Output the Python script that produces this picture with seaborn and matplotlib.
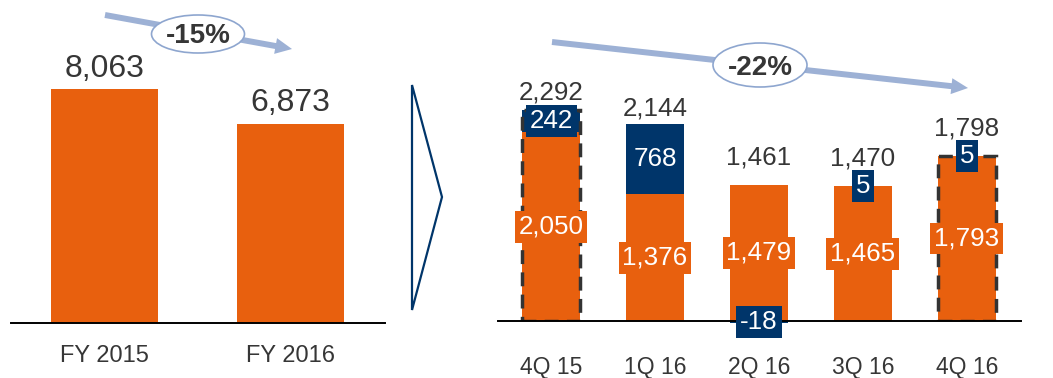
import matplotlib
matplotlib.use("Agg")
import matplotlib.pyplot as plt
import seaborn as sns
import pandas as pd
from matplotlib.patches import Ellipse, FancyArrowPatch, Polygon, ArrowStyle

# ---- data ----
fy_labels = ["FY 2015", "FY 2016"]
fy_values = [8063, 6873]
fy_change = "-15%"

q_labels = ["4Q 15", "1Q 16", "2Q 16", "3Q 16", "4Q 16"]
q_base = [2050, 1376, 1479, 1465, 1793]
q_delta = [242, 768, -18, 5, 5]
q_total = [2292, 2144, 1461, 1470, 1798]
q_dashed = [True, False, False, False, True]
q_change = "-22%"

# ---- style ----
ORANGE = "#E8600E"
NAVY = "#00356A"
GRAY = "#363636"
ARROW = "#9DB1D5"
ELLIPSE_EDGE = "#8EA6CF"
DASH = "#333333"

sns.set_theme(style="white")
plt.rcParams["font.family"] = ["Liberation Sans", "DejaVu Sans"]

W, H = 1053, 378
fig = plt.figure(figsize=(W / 100, H / 100), dpi=100)


def fx(x):
    return x / W


def fy(y):
    return 1 - y / H


axL = fig.add_axes([fx(11), fy(323), 374 / W, 318 / H])
axR = fig.add_axes([fx(498), fy(321), 523 / W, 316 / H])

# ---- left chart ----
dfL = pd.DataFrame({"period": fy_labels, "value": fy_values})
sns.barplot(data=dfL, x="period", y="value", color=ORANGE, saturation=1,
            width=0.575, errorbar=None, linewidth=0, ax=axL, zorder=2)
axL.set_xlim(-0.503, 1.508)
axL.set_ylim(0, 10958)
for i, v in enumerate(fy_values):
    axL.annotate(f"{v:,}", (i, v), xytext=(0, 3.7), textcoords="offset points",
                 ha="center", va="bottom", fontsize=23, color=GRAY)

# ---- right chart ----
dfR = pd.DataFrame({"quarter": q_labels, "value": q_base})
sns.barplot(data=dfR, x="quarter", y="value", color=ORANGE, saturation=1,
            width=0.56, errorbar=None, linewidth=0, ax=axR, zorder=2)
idx = list(range(len(q_labels)))
seg_bottom = [b if d >= 0 else 0 for b, d in zip(q_base, q_delta)]
axR.bar(idx, q_delta, bottom=seg_bottom, width=0.56, color=NAVY,
        linewidth=0, zorder=2, clip_on=False)
d_idx = [i for i in idx if q_dashed[i]]
axR.bar(d_idx, [q_total[i] for i in d_idx], width=0.56, fill=False,
        edgecolor=DASH, linewidth=2.5, linestyle=(0, (4, 2.4)), zorder=3)
axR.set_xlim(-0.51, 4.52)
axR.set_ylim(0, 3435)

top_gap = [4, 2.5, 11, 11, 11]
box = dict(boxstyle="square,pad=0.15", linewidth=0)
for i in idx:
    b, d, t = q_base[i], q_delta[i], q_total[i]
    top = max(b, b + d)
    axR.annotate(f"{t:,}", (i, top), xytext=(0, top_gap[i]),
                 textcoords="offset points", ha="center", va="bottom",
                 fontsize=18.7, color=GRAY)
    axR.text(i, b / 2, f"{b:,}", ha="center", va="center", fontsize=18.7,
             color="white", bbox=dict(box, facecolor=ORANGE), zorder=4)
    axR.text(i, seg_bottom[i] + d / 2, f"{d:,}", ha="center", va="center",
             fontsize=18.7, color="white", bbox=dict(box, facecolor=NAVY),
             zorder=5)

# ---- axes cosmetics ----
for ax, pad, size in ((axL, 15.8, 17), (axR, 25, 16.5)):
    ax.set_xlabel("")
    ax.set_ylabel("")
    ax.set_yticks([])
    for s in ("top", "left", "right"):
        ax.spines[s].set_visible(False)
    ax.spines["bottom"].set_color("black")
    ax.spines["bottom"].set_linewidth(1.4)
    ax.spines["bottom"].set_zorder(3)
    ax.tick_params(axis="x", length=0, pad=pad, labelsize=size, labelcolor=GRAY)
    ax.patch.set_alpha(0)

# ---- decorations: trend arrows, ellipses, chevron ----
style = ArrowStyle.Simple(head_length=12, head_width=11.5, tail_width=4.3)


def trend(p0, p1, center, size, label, baseline):
    arr = FancyArrowPatch((fx(p0[0]), fy(p0[1])), (fx(p1[0]), fy(p1[1])),
                          transform=fig.transFigure, arrowstyle=style,
                          mutation_scale=1, color=ARROW, linewidth=0,
                          shrinkA=0, shrinkB=0, zorder=5)
    fig.add_artist(arr)
    ell = Ellipse((fx(center[0]), fy(center[1])), size[0] / W, size[1] / H,
                  transform=fig.transFigure, facecolor="white",
                  edgecolor=ELLIPSE_EDGE, linewidth=1.2, zorder=6)
    fig.add_artist(ell)
    fig.text(fx(center[0]), fy(baseline), label, ha="center", va="baseline",
             fontsize=20, fontweight="bold", color=GRAY, zorder=7)


trend((105, 15), (292, 49), (198, 34), (93, 38), fy_change, 43)
trend((552, 42), (968, 88), (760, 65), (94, 44), q_change, 75)

chev = Polygon([(fx(412), fy(85)), (fx(442), fy(197)), (fx(412), fy(310))],
               closed=True, fill=False, edgecolor=NAVY, linewidth=1.6,
               transform=fig.transFigure)
fig.add_artist(chev)

fig.savefig("out.png", dpi=100)
